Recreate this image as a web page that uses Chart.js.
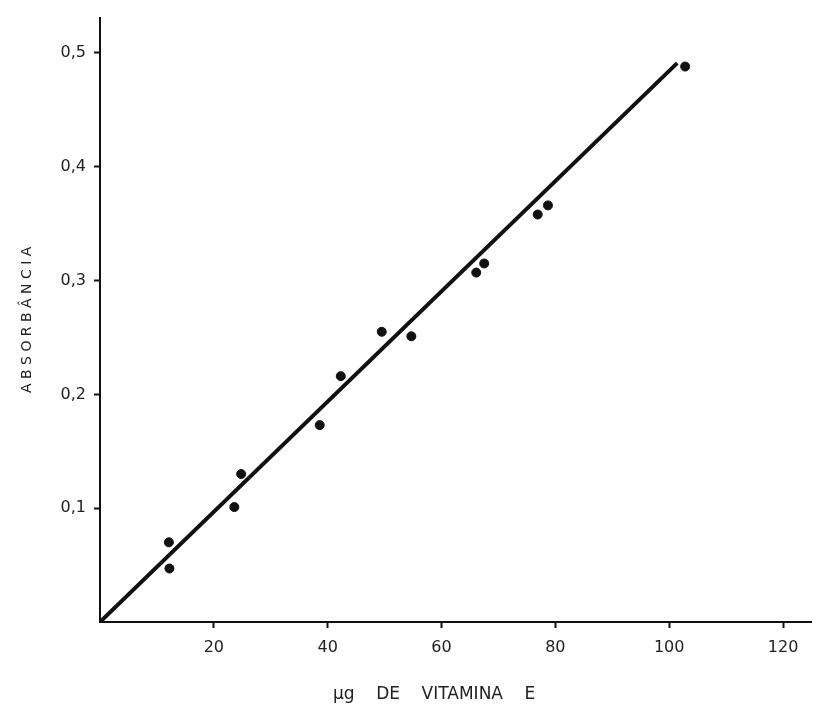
<!DOCTYPE html>
<html>
<head>
<meta charset="utf-8">
<script src="https://cdn.jsdelivr.net/npm/chart.js@4.4.1/dist/chart.umd.min.js"></script>
<style>
  html, body { margin: 0; padding: 0; background: #fff; }
  #wrap { width: 817px; height: 712px; }
</style>
</head>
<body>
<div id="wrap"><canvas id="chart"></canvas></div>
<script>
// calibration points (µg vitamin E, absorbance)
const vitaminUg = [12.1, 12.2, 23.6, 24.8, 38.6, 42.3, 49.5, 54.7, 66.1, 67.5, 76.9, 78.7, 102.8];
const absorbance = [0.070, 0.047, 0.101, 0.130, 0.173, 0.216, 0.255, 0.251, 0.307, 0.315, 0.358, 0.366, 0.488];

// fitted line, drawn from the origin to its end near 100 µg
const fitX = [0, 101.4];
const fitY = [0, 0.491];

const xTicks = [20, 40, 60, 80, 100, 120];
const yTicks = [0.1, 0.2, 0.3, 0.4, 0.5];

const INK = "#111";
const TICK_FONT = { family: "DejaVu Sans", size: 16 };

const toXY = (xs, ys) => xs.map((x, i) => ({ x, y: ys[i] }));

new Chart(document.getElementById("chart"), {
  type: "scatter",
  data: {
    datasets: [
      {
        type: "line",
        data: toXY(fitX, fitY),
        borderColor: INK,
        borderWidth: 4,
        pointRadius: 0,
        fill: false,
        order: 2,
      },
      {
        data: toXY(vitaminUg, absorbance),
        backgroundColor: INK,
        borderColor: INK,
        pointRadius: 4.5,
        order: 1,
      },
    ],
  },
  options: {
    responsive: true,
    maintainAspectRatio: false,
    animation: false,
    layout: { padding: { top: 12, right: 2, left: 0, bottom: 0 } },
    plugins: { legend: { display: false }, tooltip: { enabled: false } },
    scales: {
      x: {
        type: "linear",
        min: 0,
        max: 125,
        afterBuildTicks: (s) => { s.ticks = xTicks.map(v => ({ value: v })); },
        afterFit: (s) => { s.height = 90; },
        border: { color: INK, width: 2 },
        grid: { drawOnChartArea: false, tickLength: 6, tickColor: INK, tickWidth: 2 },
        ticks: { color: "#222", font: TICK_FONT, padding: 10 },
        title: {
          display: true,
          text: "µg    DE    VITAMINA    E        ",
          color: "#222",
          font: { family: "DejaVu Sans", size: 17 },
          padding: { top: 0, bottom: 7 },
        },
      },
      y: {
        type: "linear",
        min: 0,
        max: 0.531,
        afterBuildTicks: (s) => { s.ticks = yTicks.map(v => ({ value: v })); },
        afterFit: (s) => { s.width = 100; },
        border: { color: INK, width: 2 },
        grid: { drawOnChartArea: false, tickLength: 6, tickColor: INK, tickWidth: 2 },
        ticks: {
          color: "#222",
          font: TICK_FONT,
          padding: 8,
          callback: (v) => v.toFixed(1).replace(".", ","),
        },
        title: {
          display: true,
          text: "A B S O R B Â N C I A",
          color: "#222",
          font: { family: "DejaVu Sans", size: 14 },
          padding: { top: 19, bottom: 0 },
        },
      },
    },
  },
});
</script>
</body>
</html>
